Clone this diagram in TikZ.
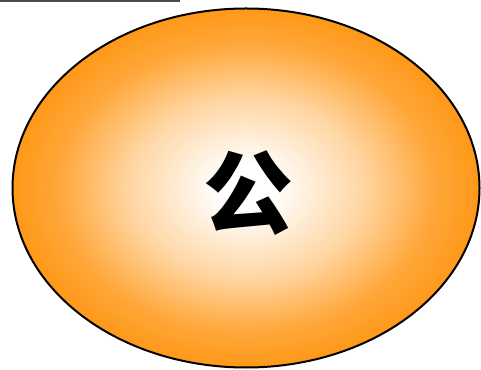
\documentclass[tikz,border=0pt]{standalone}
\usepackage{fontspec}
\newfontfamily\cjk{Noto Sans CJK SC}
\usetikzlibrary{shapes.geometric}
\definecolor{sunorange}{RGB}{255,152,24}
\pgfdeclareradialshading{glow}{\pgfpoint{0bp}{0bp}}{%
  color(0bp)=(white); color(3bp)=(white);
  color(12.5bp)=(sunorange!40!white); color(20bp)=(sunorange!85!white);
  color(25bp)=(sunorange); color(50bp)=(sunorange)}

\begin{document}
\begin{tikzpicture}[x=1pt, y=1pt]
\useasboundingbox (0,0) rectangle (481,369);
\draw[gray!60!black, line width=1.2pt] (0,368) -- (180,368);
\node[ellipse, draw, line width=2pt, shading=glow,
      minimum width=467pt, minimum height=359pt, inner sep=0pt] (sign) at (246,181) {};
\node[font=\cjk\bfseries\fontsize{90}{96}\selectfont, inner sep=0pt] (glyph) at (248,176) {公};
\end{tikzpicture}
\end{document}
